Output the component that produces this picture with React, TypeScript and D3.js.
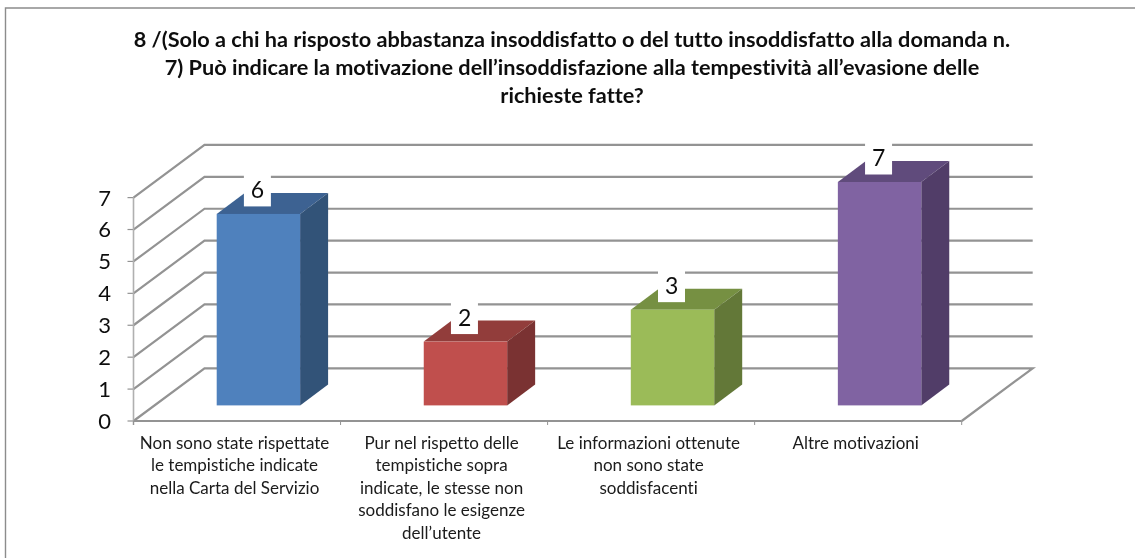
import React from "react";
import * as d3 from "d3";

const titleLines = [
  "8 /(Solo a chi ha risposto abbastanza insoddisfatto o del tutto insoddisfatto alla domanda n.",
  "7) Può indicare la motivazione dell’insoddisfazione alla tempestività all’evasione delle",
  "richieste fatte?",
];
const categories = ["a", "b", "c", "d"];
const categoryLines = [
  ["Non sono state rispettate", "le tempistiche indicate", "nella Carta del Servizio"],
  ["Pur nel rispetto delle", "tempistiche sopra", "indicate, le stesse non", "soddisfano le esigenze", "dell’utente"],
  ["Le informazioni ottenute", "non sono state", "soddisfacenti"],
  ["Altre motivazioni"],
];
const values = [6, 2, 3, 7];
const yTicks = [0, 1, 2, 3, 4, 5, 6, 7];
const frontColors = ["#4f81bd", "#c0504d", "#9bbb59", "#8064a2"];
const topColors = ["#3c6292", "#923c3a", "#769043", "#614b7c"];
const sideColors = ["#325278", "#7a3230", "#637838", "#513e68"];

const FONT = "Lato, Carlito, Calibri, sans-serif";
const GRID = "#939393";
const WALL_DX = 71;
const WALL_DY = -52.7;
const BAR_DX = 28;
const BAR_DY = -21;
const BAR_INSET = 83.2;
const BAR_W = 83.4;

export default function App() {
  const y = d3.scaleLinear().domain([0, 7]).range([421, 197.6]);
  const x = d3.scaleBand<string>().domain(categories).range([133.5, 961.7]);
  const barH = (v: number) => y(0) - y(v);
  const poly = (p: [number, number][]) => (d3.line()(p) ?? "") + "Z";
  const x0 = x.range()[0];
  const x1 = x.range()[1];

  return (
    <svg width={1135} height={558} style={{ position: "fixed", left: 0, top: 0, background: "#fff", fontVariantLigatures: "none" }} fontFamily={FONT}>
      <defs>
        <filter id="soft" x="-2%" y="-2%" width="104%" height="104%">
          <feGaussianBlur stdDeviation="0.4" />
        </filter>
      </defs>
      <g filter="url(#soft)">
        <path d="M5.5 558V8H1135" fill="none" stroke="#8c8c8c" strokeWidth={1.4} />

        {yTicks.map((t) => (
          <g key={t} fill="none" stroke={GRID} strokeWidth={2.2}>
            {t === 0 ? (
              <path d={`M${x0} ${y(0)}L${x0 + WALL_DX} ${y(0) + WALL_DY}L${x1 + WALL_DX} ${y(0) + WALL_DY}L${x1} ${y(0)}`} />
            ) : (
              <path d={`M${x0} ${y(t)}L${x0 + WALL_DX} ${y(t) + WALL_DY}L${x1 + WALL_DX} ${y(t) + WALL_DY}`} />
            )}
            <path d={`M${x0 - 6} ${y(t)}H${x0}`} strokeWidth={1.2} />
          </g>
        ))}
        <path d={`M${x0} ${y(7)}V${y(0) + 4}`} stroke="#b0b0b0" strokeWidth={1.6} fill="none" />
        <path d={`M${x0} ${y(0)}H${x1}`} stroke={GRID} strokeWidth={2.2} fill="none" />
        {[...categories.map((c) => x(c) as number), x1].map((tx) => (
          <path key={tx} d={`M${tx} ${y(0)}V${y(0) + 4}`} stroke={GRID} strokeWidth={1} />
        ))}

        {yTicks.map((t) => (
          <text key={t} x={111} y={y(t)} dy="0.36em" textAnchor="end" fontSize={22} fill="#111">{t}</text>
        ))}

        {categories.map((c, i) => {
          const l = (x(c) as number) + BAR_INSET;
          const r = l + BAR_W;
          const b = 405.4;
          const t = b - barH(values[i]);
          return (
            <g key={c}>
              <path d={poly([[l, t], [r, t], [r + BAR_DX, t + BAR_DY], [l + BAR_DX, t + BAR_DY]])} fill={topColors[i]} />
              <path d={poly([[r, t], [r + BAR_DX, t + BAR_DY], [r + BAR_DX, b + BAR_DY], [r, b]])} fill={sideColors[i]} />
              <rect x={l} y={t} width={BAR_W} height={b - t} fill={frontColors[i]} />
              <rect x={l + 27.2} y={t - 39.5} width={27} height={32} fill="#fff" />
              <text x={l + 40.8} y={t - 24} dy="0.36em" textAnchor="middle" fontSize={23} fill="#111">{values[i]}</text>
            </g>
          );
        })}

        {categoryLines.map((lines, i) => (
          <text key={i} textAnchor="middle" fontSize={17} fill="#1a1a1a">
            {lines.map((s, j) => (
              <tspan key={j} x={(x(categories[i]) as number) + x.bandwidth() / 2 - 2.5} y={449 + j * 22.4}>{s}</tspan>
            ))}
          </text>
        ))}

        <text textAnchor="middle" fontSize={21.7} fontWeight={700} fill="#111">
          {titleLines.map((s, j) => (
            <tspan key={j} x={572} y={47 + j * 28}>{s}</tspan>
          ))}
        </text>
      </g>
    </svg>
  );
}
